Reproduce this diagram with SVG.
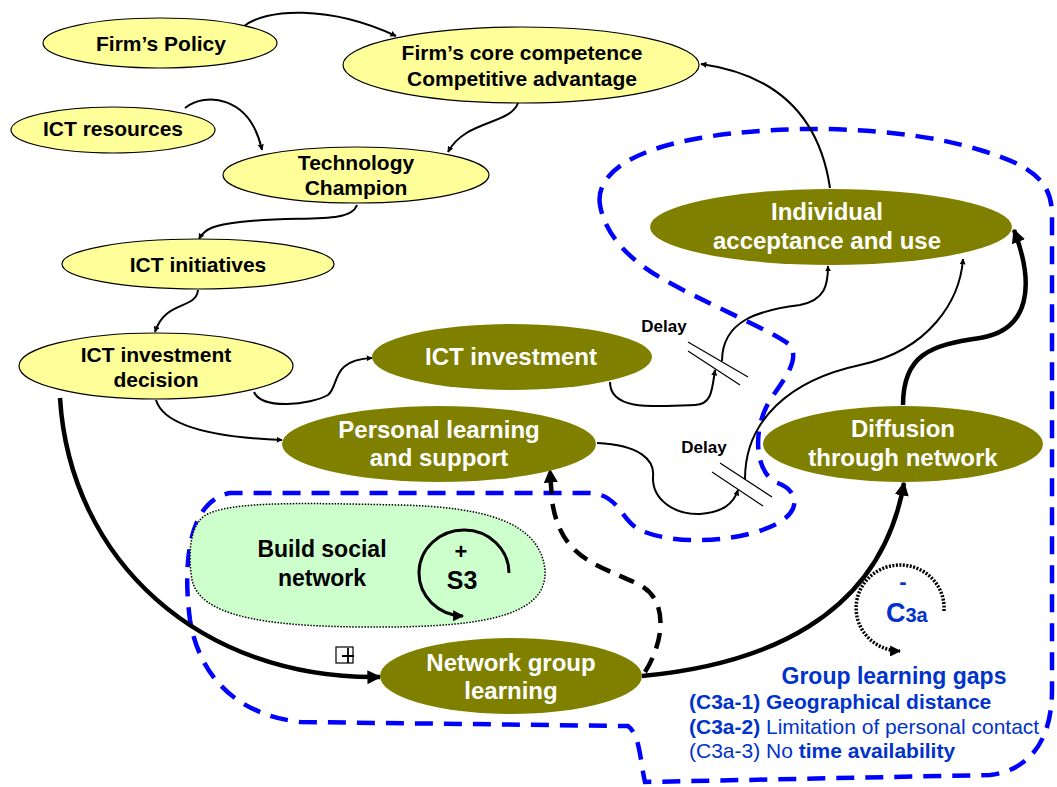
<svg xmlns="http://www.w3.org/2000/svg" width="1057" height="787" viewBox="0 0 1057 787">
<defs>
<style>
.y{fill:#ffff99;stroke:#000;stroke-width:1.2}
.o{fill:#808000}
.ty{font-family:"Liberation Sans",Arial,sans-serif;font-weight:bold;font-size:21px;fill:#000;text-anchor:middle}
.to{font-family:"Liberation Sans",Arial,sans-serif;font-weight:bold;font-size:24px;fill:#fff;text-anchor:middle}
.c{fill:none;stroke:#000;stroke-width:2}
.ck{fill:none;stroke:#000;stroke-width:4.5}
.bl{font-family:"Liberation Sans",Arial,sans-serif;fill:#0033cc}
.dl{font-family:"Liberation Sans",Arial,sans-serif;font-weight:bold;font-size:17px;fill:#000;text-anchor:middle}
</style>
<marker id="a" viewBox="0 0 10 10" refX="9" refY="5" markerWidth="6" markerHeight="6" orient="auto" markerUnits="userSpaceOnUse"><path d="M0,0L10,5L0,10z" fill="#000"/></marker>
<marker id="am" viewBox="0 0 10 10" refX="9" refY="5" markerWidth="11" markerHeight="11" orient="auto" markerUnits="userSpaceOnUse"><path d="M0,0L10,5L0,10z" fill="#000"/></marker>
<marker id="ab" viewBox="0 0 10 10" refX="9" refY="5" markerWidth="14" markerHeight="14" orient="auto" markerUnits="userSpaceOnUse"><path d="M0,0L10,5L0,10z" fill="#000"/></marker>
</defs>
<rect width="1057" height="787" fill="#fff"/>

<g id="boundary">
<path d="M600,205 C595,175 630,150 700,138 C780,124 900,125 980,150 C1030,165 1052,180 1052,215 L1052,690 C1052,740 1030,770 990,775 L645,782 C640,760 640,735 628,726 L300,722 C240,715 200,680 190,620 C182,560 190,500 230,493 L590,493 C620,495 620,520 640,530 C680,548 750,540 780,522 C800,510 800,490 775,482 C755,470 752,430 770,400 C785,378 800,360 790,345 C770,330 720,310 670,283 C630,262 605,235 600,205 Z" fill="none" stroke="#0000ff" stroke-width="4.5" stroke-dasharray="18,11"/>
</g>

<g id="connectors">
<path class="c" d="M243,27 C265,8 330,5 396,36" marker-end="url(#a)"/>
<path class="c" d="M185,108 C205,92 250,95 262,150" marker-end="url(#a)"/>
<path class="c" d="M518,103 C510,125 465,120 448,152" marker-end="url(#a)"/>
<path class="c" d="M357,205 C350,225 300,215 240,222 C215,225 205,228 199,239" marker-end="url(#a)"/>
<path class="c" d="M198,290 C196,310 165,300 155,332" marker-end="url(#a)"/>
<path class="c" d="M254,392 C262,410 310,405 328,395 C340,385 330,360 372,358" marker-end="url(#a)"/>
<path class="c" d="M156,400 C165,430 230,438 282,440" marker-end="url(#a)"/>
<path class="ck" d="M60,398 C70,560 200,680 380,677" marker-end="url(#ab)"/>
<path class="c" d="M610,382 C610,410 650,407 695,405 C712,404 712,390 715,370" marker-end="url(#a)"/>
<path class="c" d="M722,361 C722,320 760,310 800,305 C825,300 828,285 828,266" marker-end="url(#a)"/>
<path class="c" d="M597,443 C640,445 655,460 653,477 C652,500 675,515 700,514 C722,512 733,505 738,490" marker-end="url(#a)"/>
<path class="c" d="M745,479 C745,420 790,380 860,365 C930,350 960,300 963,259" marker-end="url(#a)"/>
<path class="ck" d="M903,405 C903,355 930,345 980,338 C1030,330 1035,285 1014,230" marker-end="url(#ab)"/>
<path class="ck" d="M642,676 C760,665 880,620 904,483" marker-end="url(#ab)"/>
<path class="ck" d="M645,672 C665,640 668,600 640,585 C600,565 560,560 552,500 L550,470" stroke-dasharray="16,10" marker-end="url(#ab)"/>
<path class="c" d="M830,188 C820,120 780,75 701,64" marker-end="url(#a)"/>
<line x1="688" y1="342" x2="748" y2="377" stroke="#000" stroke-width="1.2"/>
<line x1="688" y1="351" x2="740" y2="385" stroke="#000" stroke-width="1.2"/>
<text class="dl" x="664" y="332">Delay</text>
<line x1="720" y1="463" x2="772" y2="497" stroke="#000" stroke-width="1.2"/>
<line x1="712" y1="472" x2="763" y2="506" stroke="#000" stroke-width="1.2"/>
<text class="dl" x="704" y="453">Delay</text>
<rect x="336" y="647" width="17" height="16" fill="#fff" stroke="#000" stroke-width="1.2"/>
<path d="M348,648 V663 M342,656 H354" stroke="#000" stroke-width="1.8"/>
</g>

<g id="n-policy"><ellipse class="y" cx="160" cy="43" rx="117" ry="25"/><text class="ty" x="161" y="51">Firm’s Policy</text></g>
<g id="n-core"><ellipse class="y" cx="521" cy="65" rx="178" ry="38"/><text class="ty" x="522" y="60">Firm’s core competence</text><text class="ty" x="522" y="86">Competitive advantage</text></g>
<g id="n-ictres"><ellipse class="y" cx="113" cy="130" rx="102" ry="23"/><text class="ty" x="113" y="136">ICT resources</text></g>
<g id="n-champ"><ellipse class="y" cx="356" cy="175" rx="133" ry="28"/><text class="ty" x="356" y="170">Technology</text><text class="ty" x="356" y="195">Champion</text></g>
<g id="n-init"><ellipse class="y" cx="198" cy="264" rx="136" ry="25"/><text class="ty" x="198" y="272">ICT initiatives</text></g>
<g id="n-decision"><ellipse class="y" cx="156" cy="366" rx="137" ry="33"/><text class="ty" x="156" y="362">ICT investment</text><text class="ty" x="156" y="387">decision</text></g>

<g id="n-invest"><ellipse class="o" cx="512" cy="357" rx="140" ry="33"/><text class="to" x="511" y="365">ICT investment</text></g>
<g id="n-personal"><ellipse class="o" cx="439" cy="444" rx="157" ry="38"/><text class="to" x="439" y="438">Personal learning</text><text class="to" x="439" y="466">and support</text></g>
<g id="n-accept"><ellipse class="o" cx="831" cy="227" rx="181" ry="38"/><text class="to" x="827" y="220">Individual</text><text class="to" x="827" y="249">acceptance and use</text></g>
<g id="n-diffusion"><ellipse class="o" cx="903" cy="444" rx="140" ry="38"/><text class="to" x="903" y="437">Diffusion</text><text class="to" x="903" y="466">through network</text></g>
<g id="n-group"><ellipse class="o" cx="511" cy="676" rx="131" ry="38"/><text class="to" x="511" y="671">Network group</text><text class="to" x="511" y="699">learning</text></g>

<g id="n-social">
<path d="M200,520 C215,500 300,503 400,505 C480,507 540,520 545,570 C548,620 470,628 360,627 C260,626 200,615 192,580 C188,555 190,532 200,520 Z" fill="#ccffcc" stroke="#000" stroke-width="1.5" stroke-dasharray="1.5,1.5"/>
<text class="ty" x="322" y="557" style="font-size:23px">Build social</text>
<text class="ty" x="322" y="586" style="font-size:23px">network</text>
<path d="M509,573 A45,43 0 1 0 463,616" fill="none" stroke="#000" stroke-width="3" marker-end="url(#am)"/>
<text class="ty" x="461" y="559" style="font-size:22px">+</text>
<text class="ty" x="462" y="589" style="font-size:25px">S3</text>
</g>

<g id="n-c3a">
<path d="M944,611 A44,43 0 1 0 900,651" fill="none" stroke="#000" stroke-width="3.5" stroke-dasharray="2,1.5" marker-end="url(#am)"/>
<text class="bl" x="903" y="589" text-anchor="middle" font-weight="bold" font-size="22">-</text>
<text class="bl" x="886" y="622" font-weight="bold" font-size="27">C<tspan font-size="20">3a</tspan></text>
</g>

<g id="gaps">
<text class="bl" x="894" y="684" text-anchor="middle" font-weight="bold" font-size="23">Group learning gaps</text>
<text class="bl" x="689" y="709" font-size="21" font-weight="bold">(C3a-1) Geographical distance</text>
<text class="bl" x="689" y="734" font-size="21"><tspan font-weight="bold">(C3a-2)</tspan> Limitation of personal contact</text>
<text class="bl" x="689" y="758" font-size="21">(C3a-3) No <tspan font-weight="bold">time availability</tspan></text>
</g>
</svg>
